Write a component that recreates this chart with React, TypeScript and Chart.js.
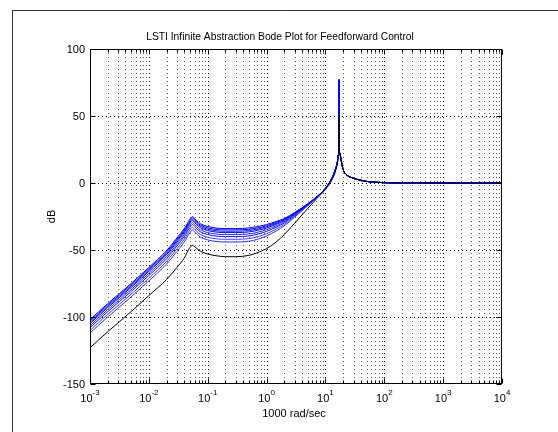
import React, { useEffect, useRef } from 'react';
import { Chart, registerables } from 'chart.js';
Chart.register(...registerables);

// frequency points (1000 rad/sec)
const lowFreq = [0.001, 0.002, 0.005, 0.01, 0.02, 0.03, 0.04, 0.05, 0.055, 0.06, 0.07, 0.08, 0.1, 0.15, 0.2, 0.3, 0.5, 0.7, 1, 1.5, 2, 3, 5, 7, 10];
const tailFreq = [13, 15, 16, 16.6, 16.9, 17.05, 17.2, 17.6, 18.5, 20, 23, 28, 34, 50, 75, 150, 1000, 10000];
const tailDbBlue = [4, 11, 16, 21, 26, 77, 26, 22, 17, 10, 6, 4, 2.8, 1.2, 0.5, 0.1, 0, 0];
const tailDbBlack = [2.5, 9.5, 15, 20.5, 25.5, 51, 25.5, 22, 17, 10, 6, 4, 2.8, 1.2, 0.5, 0.1, 0, 0];

// magnitude (dB) for each curve, low/mid band
const blue1 = [-102, -90, -75, -63, -50.5, -41, -34, -27, -25, -26.5, -29.5, -31, -32.5, -33.8, -34, -34, -33.5, -32.5, -31, -28.5, -26.5, -22, -15.5, -10.5, -4];
const blue2 = [-103, -91, -76, -64, -51.5, -42, -35, -28, -26, -27.5, -30.5, -32, -33.5, -34.8, -35, -35, -34.5, -33.5, -31.9, -29.2, -27.1, -22.4, -15.7, -10.6, -4];
const blue3 = [-104, -92, -77, -65, -52.5, -43, -36, -29, -27, -28.5, -31.5, -33, -34.5, -35.8, -36, -36, -35.5, -34.4, -32.7, -29.9, -27.6, -22.7, -15.8, -10.6, -4];
const blue4 = [-105, -93, -78, -66, -53.5, -44, -37, -30, -28, -29.5, -32.5, -34, -35.5, -36.8, -37, -37, -36.5, -35.4, -33.6, -30.6, -28.2, -23.1, -16, -10.7, -4.1];
const blue5 = [-106.5, -94.5, -79.5, -67.5, -55, -45.5, -38.5, -31.5, -29.5, -31, -34, -35.5, -37, -38.3, -38.5, -38.5, -38, -36.8, -34.8, -31.7, -29, -23.6, -16.2, -10.8, -4.1];
const blue6 = [-108, -96, -81, -69, -56.5, -47, -40, -33, -31, -32.5, -35.5, -37, -38.5, -39.8, -40, -40, -39.5, -38.2, -36.1, -32.7, -29.8, -24.1, -16.4, -10.9, -4.1];
const blue7 = [-110, -98, -83, -71, -58.5, -49, -42, -35, -33, -34.5, -37.5, -39, -40.5, -41.8, -42, -42, -41.5, -40.1, -37.8, -34.1, -30.9, -24.8, -16.7, -11.1, -4.2];
const blue8 = [-112, -100, -85, -73, -60.5, -51, -44, -37, -35, -36.5, -39.5, -41, -42.5, -43.8, -44, -44, -43.5, -42, -39.5, -35.5, -32, -25.5, -17, -11.2, -4.2];
const black1 = [-123, -111, -96, -84, -72, -63, -56, -48, -46.5, -47.5, -50, -51.5, -53, -54.5, -55, -55, -54, -52, -49, -43.5, -38.5, -30, -19, -12, -4.8];

const blueCurves = [blue1, blue2, blue3, blue4, blue5, blue6, blue7, blue8];
const blueColors = ['#0000ff', '#0000ff', '#1515ff', '#0000ff', '#2a2aff', '#1010ff', '#4040ff', '#3030ff'];

const yTicks = [100, 50, 0, -50, -100, -150];
const xDecades = [-3, -2, -1, 0, 1, 2, 3, 4];

const titleText = 'LSTI Infinite Abstraction Bode Plot for Feedforward Control';
const xTitle = '1000 rad/sec';
const yTitle = 'dB';
const FONT = '"Liberation Sans", Arial, Helvetica, sans-serif';

const allFreq = [...lowFreq, ...tailFreq];
const build = (low: number[], tail: number[]) =>
  allFreq.map((f, i) => ({ x: f, y: i < low.length ? low[i] : tail[i - low.length] }));

const bodePlugin = {
  id: 'bodeDecor',
  beforeDatasetsDraw(chart: any) {
    const { ctx, chartArea: a, scales } = chart;
    const x = scales.x, y = scales.y;
    ctx.save();
    ctx.lineWidth = 1;
    ctx.setLineDash([1, 3]);
    for (const d of xDecades) {
      for (let m = 1; m <= 9; m++) {
        if (d === 4 && m > 1) break;
        const v = m * Math.pow(10, d);
        const px = Math.round(x.getPixelForValue(v)) + 0.5;
        if (px <= a.left + 1 || px >= a.right - 1) continue;
        ctx.strokeStyle = m === 1 ? '#000000' : '#606060';
        ctx.beginPath();
        ctx.moveTo(px, a.top);
        ctx.lineTo(px, a.bottom);
        ctx.stroke();
      }
    }
    ctx.strokeStyle = '#000000';
    for (const t of yTicks) {
      const py = Math.round(y.getPixelForValue(t)) + 0.5;
      if (py <= a.top + 1 || py >= a.bottom - 1) continue;
      ctx.beginPath();
      ctx.moveTo(a.left, py);
      ctx.lineTo(a.right, py);
      ctx.stroke();
    }
    ctx.restore();
  },
  afterDraw(chart: any) {
    const { ctx, chartArea: a, scales } = chart;
    const x = scales.x, y = scales.y;
    ctx.save();
    ctx.setLineDash([]);
    ctx.lineWidth = 1;
    ctx.strokeStyle = '#000000';
    const L = Math.round(a.left) + 0.5, R = Math.round(a.right) - 0.5;
    const T = Math.round(a.top) + 0.5, B = Math.round(a.bottom) - 0.5;
    ctx.strokeRect(L, T, R - L, B - T);
    // ticks
    ctx.beginPath();
    for (const d of xDecades) {
      for (let m = 1; m <= 9; m++) {
        if (d === 4 && m > 1) break;
        const px = Math.round(x.getPixelForValue(m * Math.pow(10, d))) + 0.5;
        const len = m === 1 ? 5 : 3;
        ctx.moveTo(px, B); ctx.lineTo(px, B - len);
        ctx.moveTo(px, T); ctx.lineTo(px, T + len);
      }
    }
    for (const t of yTicks) {
      const py = Math.round(y.getPixelForValue(t)) + 0.5;
      ctx.moveTo(L, py); ctx.lineTo(L + 5, py);
      ctx.moveTo(R, py); ctx.lineTo(R - 5, py);
    }
    ctx.stroke();
    // y tick labels
    ctx.fillStyle = '#000000';
    ctx.font = `11px ${FONT}`;
    ctx.textAlign = 'right';
    ctx.textBaseline = 'middle';
    for (const t of yTicks) {
      ctx.fillText(String(t), a.left - 5, y.getPixelForValue(t) + 0.5);
    }
    // x tick labels 10^n
    ctx.textBaseline = 'alphabetic';
    ctx.textAlign = 'left';
    for (const d of xDecades) {
      const px = x.getPixelForValue(Math.pow(10, d));
      ctx.font = `11px ${FONT}`;
      const w1 = ctx.measureText('10').width;
      ctx.font = `8px ${FONT}`;
      const sup = String(d);
      const w2 = ctx.measureText(sup).width;
      const start = px - (w1 + w2) / 2;
      ctx.font = `11px ${FONT}`;
      ctx.fillText('10', start, a.bottom + 18);
      ctx.font = `8px ${FONT}`;
      ctx.fillText(sup, start + w1, a.bottom + 11);
    }
    // axis titles
    ctx.font = `11px ${FONT}`;
    ctx.textAlign = 'center';
    ctx.fillText(xTitle, (a.left + a.right) / 2 - 2, a.bottom + 33);
    ctx.save();
    ctx.translate(55, (a.top + a.bottom) / 2);
    ctx.rotate(-Math.PI / 2);
    ctx.textBaseline = 'alphabetic';
    ctx.fillText(yTitle, 0, 0);
    ctx.restore();
    // title
    ctx.font = `11px ${FONT}`;
    const tw = ctx.measureText(titleText).width;
    const fs = Math.min(11, 11 * 268 / tw);
    ctx.font = `${fs.toFixed(2)}px ${FONT}`;
    ctx.textBaseline = 'alphabetic';
    ctx.fillText(titleText, 280, 40);
    // figure frame
    ctx.strokeStyle = '#333333';
    ctx.beginPath();
    ctx.moveTo(12.5, 432);
    ctx.lineTo(12.5, 10.5);
    ctx.lineTo(558, 10.5);
    ctx.stroke();
    ctx.restore();
  },
};

export default function App() {
  const ref = useRef<HTMLCanvasElement | null>(null);
  useEffect(() => {
    if (!ref.current) return;
    const datasets: any[] = [{
      label: 'black',
      data: build(black1, tailDbBlack),
      borderColor: '#000000',
      borderWidth: 1,
      pointRadius: 0,
      fill: false,
    }];
    blueCurves.forEach((c, i) => datasets.push({
      label: `blue${i + 1}`,
      data: build(c, tailDbBlue),
      borderColor: blueColors[i],
      borderWidth: 1,
      pointRadius: 0,
      fill: false,
    }));
    const chart = new Chart(ref.current, {
      type: 'line',
      data: { datasets },
      options: {
        animation: false,
        responsive: false,
        layout: { padding: { left: 90, top: 49, right: 56, bottom: 48 } },
        plugins: { legend: { display: false }, tooltip: { enabled: false }, title: { display: false } },
        scales: {
          x: { type: 'logarithmic', min: 0.001, max: 10000, display: false },
          y: { type: 'linear', min: -150, max: 100, display: false },
        },
        elements: { line: { cubicInterpolationMode: 'monotone' } },
      },
      plugins: [bodePlugin],
    });
    return () => chart.destroy();
  }, []);
  return (
    <div style={{ position: 'fixed', left: 0, top: 0, width: 558, height: 432, background: '#fff' }}>
      <canvas ref={ref} width={558} height={432} style={{ width: 558, height: 432, display: 'block' }} />
    </div>
  );
}
